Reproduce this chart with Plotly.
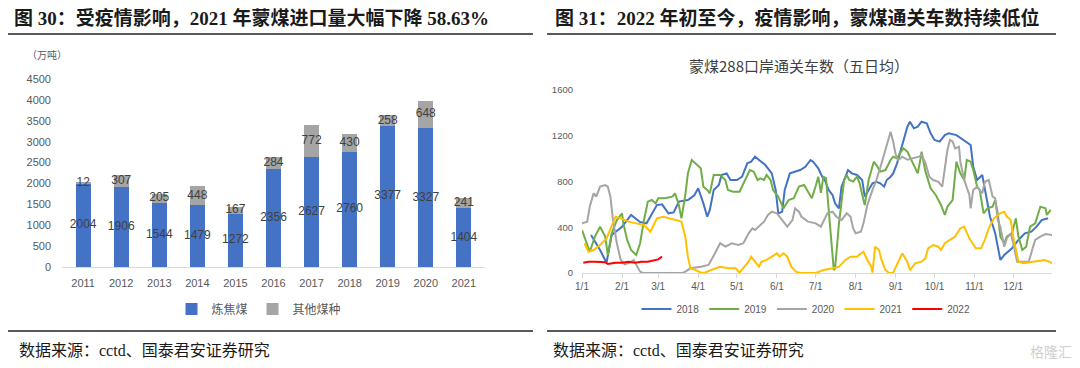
import pandas as pd
import plotly.graph_objects as go

# ---------------- Left chart data: 蒙煤进口量 (万吨) ----------------
years = ["2011", "2012", "2013", "2014", "2015", "2016", "2017", "2018", "2019", "2020", "2021"]
coking = [2004, 1906, 1544, 1479, 1272, 2356, 2627, 2760, 3377, 3327, 1404]
other = [12, 307, 205, 448, 167, 284, 772, 430, 258, 648, 241]

# ---------------- Right chart data: 蒙煤288口岸通关车数（五日均） ----------------
# day offsets from 1/1 and values
d2018 = [7, 14, 19, 23, 31, 38, 45, 50, 58, 62, 67, 71, 75, 82, 87, 90, 94, 97, 99, 102, 106, 108, 112, 115, 120,
         124, 128, 131, 134, 137, 139, 142, 144, 147, 150, 152, 155, 157, 161, 165, 169, 173, 177, 179, 183, 186,
         188, 191, 194, 196, 199, 201, 204, 206, 209, 213, 217, 219, 222, 225, 228, 231, 234, 236, 239, 241, 244,
         247, 249, 252, 254, 257, 260, 263, 267, 270, 273, 277, 281, 284, 290, 298, 301, 303, 306, 310, 312, 316,
         320, 324, 327, 333, 338, 343, 348, 352, 356, 361]
v2018 = [332, 201, 90, 332, 405, 507, 446, 434, 594, 600, 522, 530, 624, 638, 680, 740, 609, 492, 551, 726, 769, 857,
         871, 813, 813, 842, 959, 973, 1017, 988, 973, 944, 915, 871, 726, 522, 536, 726, 871, 886, 900, 929, 988,
         973, 915, 842, 813, 726, 682, 609, 565, 755, 842, 900, 871, 857, 813, 667, 726, 784, 798, 784, 755, 813,
         842, 871, 959, 1075, 1148, 1279, 1323, 1265, 1279, 1323, 1308, 1221, 1163, 1148, 1206, 1221, 1206, 1148,
         1119, 929, 813, 857, 726, 492, 347, 114, 157, 216, 289, 347, 361, 405, 463, 478]

d2019 = [0, 4, 6, 10, 14, 18, 20, 23, 27, 31, 32, 35, 38, 42, 45, 48, 51, 54, 57, 59, 64, 70, 72, 75, 77, 80, 82, 85,
         89, 92, 94, 97, 99, 102, 107, 111, 113, 117, 122, 126, 130, 133, 136, 138, 141, 143, 146, 148, 152, 156, 160,
         164, 168, 172, 174, 178, 181, 183, 185, 187, 189, 192, 195, 196, 199, 203, 205, 207, 210, 213, 215, 218, 219,
         222, 226, 228, 231, 235, 239, 241, 244, 247, 249, 252, 256, 260, 262, 263, 266, 270, 274, 278, 281, 283, 287,
         290, 293, 296, 298, 301, 303, 306, 308, 311, 314, 318, 320, 322, 324, 327, 329, 333, 336, 338, 341, 344, 347,
         351, 355, 359, 360, 363]
v2019 = [376, 260, 186, 318, 405, 318, 157, 347, 463, 522, 434, 289, 201, 157, 260, 463, 624, 638, 609, 653, 653, 667,
         697, 594, 478, 682, 871, 988, 944, 915, 755, 726, 697, 857, 857, 813, 726, 711, 711, 813, 900, 886, 813, 827,
         813, 857, 813, 726, 667, 565, 638, 653, 755, 769, 726, 653, 760, 842, 700, 842, 830, 405, 26, 40, 434, 813,
         857, 813, 800, 842, 784, 638, 594, 813, 973, 944, 886, 900, 988, 1017, 1002, 1061, 1090, 1061, 959, 871, 988,
         1061, 886, 740, 682, 595, 507, 580, 638, 973, 871, 813, 988, 973, 900, 755, 726, 522, 565, 580, 638, 522, 318,
         260, 318, 347, 478, 318, 201, 230, 405, 434, 580, 565, 507, 551]

d2020 = [0, 4, 6, 9, 11, 14, 18, 20, 22, 24, 27, 30, 33, 37, 40, 42, 45, 47, 78, 80, 84, 92, 98, 103, 107, 111, 116,
         121, 125, 129, 132, 134, 137, 141, 144, 147, 151, 155, 159, 163, 165, 168, 170, 175, 181, 185, 190, 194, 197,
         201, 205, 208, 210, 212, 216, 218, 221, 225, 228, 232, 235, 239, 241, 243, 245, 248, 252, 256, 261, 263, 266,
         269, 272, 276, 279, 283, 285, 287, 289, 292, 293, 296, 300, 301, 303, 306, 310, 312, 315, 318, 320, 322, 324,
         327, 329, 332, 334, 337, 346, 349, 351, 355, 359, 364]
v2020 = [434, 449, 580, 697, 667, 755, 769, 755, 667, 463, 260, 114, 76, 90, 114, 70, 12, 0, 0, 12, 41, 55, 70, 172,
         260, 230, 260, 245, 260, 347, 391, 376, 405, 449, 507, 536, 522, 463, 405, 463, 565, 536, 492, 449, 434, 405,
         522, 536, 492, 463, 522, 492, 390, 347, 361, 434, 594, 726, 813, 959, 1075, 1235, 1148, 1032, 988, 1017, 990,
         1003, 1017, 1032, 960, 842, 813, 798, 755, 1075, 1163, 1150, 1090, 1104, 973, 813, 682, 565, 726, 755, 697,
         798, 813, 667, 653, 463, 405, 230, 303, 347, 260, 99, 99, 216, 289, 318, 341, 332]

d2021 = [2, 5, 9, 14, 19, 23, 26, 30, 36, 42, 48, 53, 55, 58, 63, 68, 73, 77, 80, 82, 84, 88, 92, 95, 100, 107, 113,
         119, 122, 126, 129, 131, 134, 137, 139, 143, 147, 151, 153, 156, 159, 162, 166, 169, 181, 187, 194, 199, 204,
         208, 213, 218, 221, 224, 225, 227, 230, 232, 235, 238, 241, 244, 248, 252, 254, 258, 263, 266, 268, 272, 276,
         278, 281, 285, 289, 293, 296, 300, 305, 309, 312, 315, 319, 324, 327, 329, 332, 334, 336, 338, 342, 351, 358,
         362, 364]
v2021 = [260, 186, 201, 245, 303, 405, 492, 478, 449, 434, 420, 361, 405, 478, 492, 478, 463, 449, 318, 143, 41, 26, 3,
         3, 26, 55, 41, 41, 3, 55, 99, 143, 99, 55, 99, 114, 143, 172, 143, 172, 143, 55, 9, 0, 0, 26, 41, 55, 114, 143,
         143, 186, 114, 55, 3, 230, 201, 114, 26, 0, 3, 70, 172, 99, 26, 85, 99, 128, 216, 245, 230, 201, 260, 289,
         318, 391, 405, 303, 216, 216, 289, 391, 478, 522, 536, 493, 463, 318, 201, 99, 85, 99, 114, 99, 85]

d2022 = [1, 5, 10, 15, 18, 20, 23, 26, 31, 36, 41, 46, 51, 54, 57, 59, 62]
v2022 = [90, 99, 99, 99, 95, 79, 85, 90, 90, 99, 90, 99, 99, 105, 114, 119, 143]

line_years = ["2018", "2019", "2020", "2021", "2022"]
line_days = [d2018, d2019, d2020, d2021, d2022]
line_vals = [v2018, v2019, v2020, v2021, v2022]
line_colors = ["#4472C4", "#70AD47", "#A5A5A5", "#FFC000", "#FF0000"]

# page body has an 8px margin: the figure is drawn 8px in from the window's top-left
OFF = 8
W, H = 1080 - OFF, 368 - OFF
def px(x):
    return (x - OFF) / W
def py(y):
    return 1 - (y - OFF) / H

base = pd.Timestamp("2021-01-01")

fig = go.Figure()

# ---- left: stacked bars ----
fig.add_trace(go.Bar(x=years, y=coking, name="炼焦煤", marker=dict(color="#4472C4", line=dict(width=0)),
                     xaxis="x", yaxis="y", legend="legend"))
fig.add_trace(go.Bar(x=years, y=other, name="其他煤种", marker=dict(color="#A5A5A5", line=dict(width=0)),
                     xaxis="x", yaxis="y", legend="legend"))
lab_font = dict(family="Liberation Sans", size=12, color="#404040")
fig.add_trace(go.Scatter(x=years, y=[c / 2 for c in coking], mode="text", text=[str(c) for c in coking],
                         textfont=lab_font, showlegend=False, xaxis="x", yaxis="y", hoverinfo="skip"))
fig.add_trace(go.Scatter(x=years, y=[c + o / 2 for c, o in zip(coking, other)], mode="text",
                         text=[str(o) for o in other], textfont=lab_font,
                         showlegend=False, xaxis="x", yaxis="y", hoverinfo="skip"))

# ---- right: lines ----
for name, dd, vv, col in zip(line_years, line_days, line_vals, line_colors):
    xs = [base + pd.Timedelta(days=int(d)) for d in dd]
    fig.add_trace(go.Scatter(x=xs, y=vv, mode="lines", name=name, line=dict(color=col, width=2),
                             xaxis="x2", yaxis="y2", legend="legend2"))

tickfont_l = dict(family="Liberation Sans", size=11, color="#595959")
tickfont_r = dict(family="Liberation Sans", size=9.5, color="#595959")

fig.update_layout(
    width=W, height=H,
    margin=dict(l=0, r=0, t=0, b=0, autoexpand=False),
    paper_bgcolor="white", plot_bgcolor="white",
    barmode="stack", bargap=0.6,
    xaxis=dict(domain=[px(62), px(485)], type="category", showline=True, linecolor="#d9d9d9", linewidth=1,
               ticks="", tickfont=tickfont_l, showgrid=False, zeroline=False, anchor="y",
               ticklabelstandoff=6, automargin=False),
    yaxis=dict(domain=[py(267), py(79)], range=[0, 4500], dtick=500, showgrid=False, zeroline=False,
               showline=False, tickfont=tickfont_l, anchor="x", ticklabelstandoff=10, automargin=False),
    xaxis2=dict(domain=[px(582), px(1052)], type="date", range=["2021-01-01", "2021-12-31"],
                tick0="2021-01-01", dtick="M1", tickformat="%-m/%-d", showline=True, linecolor="#d9d9d9",
                linewidth=1, ticks="outside", ticklen=4, tickcolor="#d9d9d9",
                tickfont=dict(family="Liberation Sans", size=10, color="#595959"),
                showgrid=False, zeroline=False, anchor="y2", automargin=False),
    yaxis2=dict(domain=[py(273), py(90)], range=[0, 1600], dtick=400, showgrid=False, zeroline=False,
                showline=False, tickfont=tickfont_r, anchor="x2", ticklabelstandoff=8, automargin=False),
    legend=dict(orientation="h", x=px(259), y=py(309), xanchor="center", yanchor="middle",
                traceorder="normal",
                font=dict(family="Noto Sans CJK SC", size=12, color="#595959"), bgcolor="rgba(0,0,0,0)"),
    legend2=dict(orientation="h", x=px(806), y=py(309), xanchor="center", yanchor="middle",
                 font=dict(family="Liberation Sans", size=10, color="#595959"), bgcolor="rgba(0,0,0,0)",
                 itemwidth=30),
    showlegend=True,
)

title_font = dict(family="Liberation Serif, Noto Sans CJK SC", size=19, color="#1a1a1a")
src_font = dict(family="Liberation Serif, Noto Sans CJK SC", size=16, color="#1a1a1a")

annotations = [
    dict(text="<b>图 30：受疫情影响，2021 年蒙煤进口量大幅下降 58.63%</b>", x=px(12), y=py(18),
         xanchor="left", yanchor="middle", font=title_font),
    dict(text="<b>图 31：2022 年初至今，疫情影响，蒙煤通关车数持续低位</b>", x=px(553), y=py(18),
         xanchor="left", yanchor="middle", font=title_font),
    dict(text="数据来源：cctd、国泰君安证券研究", x=px(17), y=py(350), xanchor="left", yanchor="middle",
         font=src_font),
    dict(text="数据来源：cctd、国泰君安证券研究", x=px(551), y=py(350), xanchor="left", yanchor="middle",
         font=src_font),
    dict(text="（万吨）", x=px(47), y=py(54), xanchor="center", yanchor="middle",
         font=dict(family="Noto Sans CJK SC", size=10, color="#595959")),
    dict(text="蒙煤288口岸通关车数（五日均）", x=px(799), y=py(66), xanchor="center", yanchor="middle",
         font=dict(family="Noto Sans CJK SC", size=15, color="#404040")),
    dict(text="格隆汇", x=px(1074), y=py(351), xanchor="right", yanchor="middle",
         font=dict(family="Noto Sans CJK SC", size=14, color="#cfcfcf")),
]
for a in annotations:
    a.update(xref="paper", yref="paper", showarrow=False)
fig.update_layout(annotations=annotations)

rule = dict(color="#595959", width=2)
shapes = [
    dict(type="line", x0=px(8), x1=px(533), y0=py(34), y1=py(34), line=rule),
    dict(type="line", x0=px(547), x1=px(1056), y0=py(34), y1=py(34), line=rule),
    dict(type="line", x0=px(8), x1=px(533), y0=py(331), y1=py(331), line=rule),
    dict(type="line", x0=px(547), x1=px(1056), y0=py(331), y1=py(331), line=rule),
]
for s in shapes:
    s.update(xref="paper", yref="paper")
fig.update_layout(shapes=shapes)

fig.write_html("out.html")
